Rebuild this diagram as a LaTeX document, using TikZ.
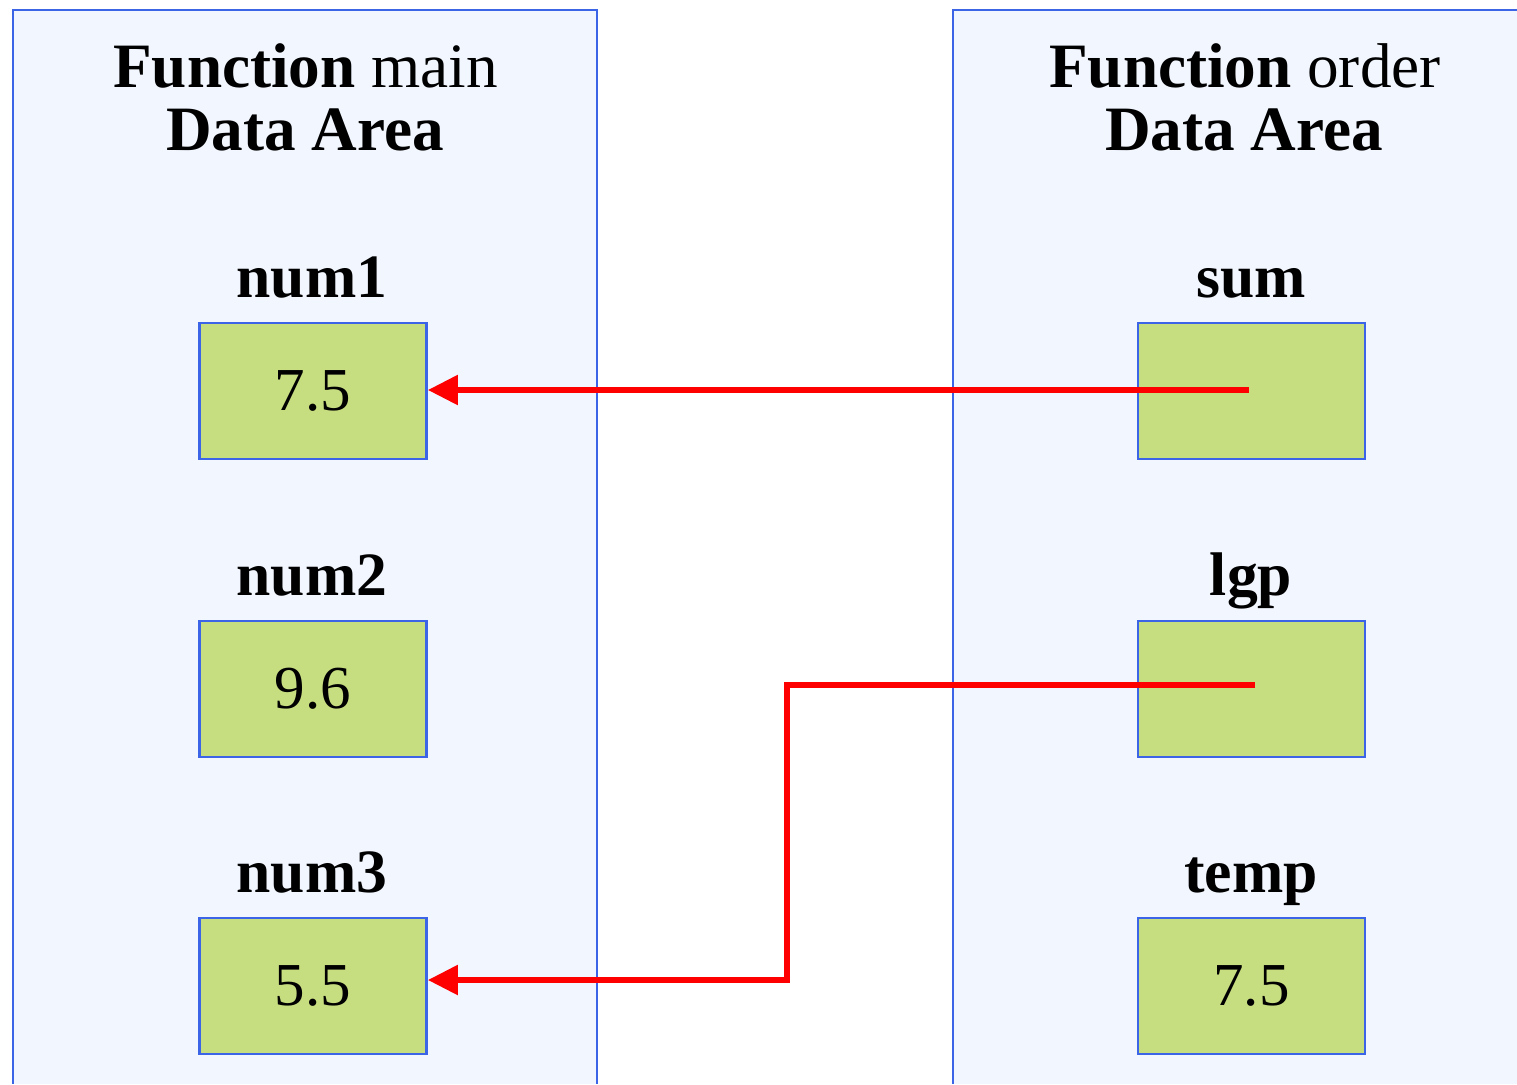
\documentclass[tikz,border=0pt]{standalone}
\usepackage{fontspec}
\setmainfont{Liberation Serif}
\usetikzlibrary{arrows.meta}
\definecolor{panelfill}{HTML}{F2F6FE}
\definecolor{panelline}{HTML}{3C64E6}
\definecolor{boxfill}{HTML}{C6DD80}
\definecolor{linkred}{HTML}{FF0000}
\tikzset{
  panel/.style={fill=panelfill},
  panelborder/.style={draw=panelline, line width=1.3pt},
  varbox/.style={draw=panelline, fill=boxfill, line width=1.4pt, minimum width=113.5pt, minimum height=68pt, inner sep=0pt, font=\fontsize{30.5pt}{36pt}\selectfont},
  lbl/.style={anchor=base, inner sep=0pt, font=\fontsize{30.8pt}{36pt}\selectfont\bfseries},
  ttl/.style={anchor=base, inner sep=0pt, font=\fontsize{31.6pt}{36pt}\selectfont},
  link/.style={draw=linkred, line width=2.8pt},
  linkarrow/.style={link, -{Triangle[length=15pt,width=14.5pt]}}
}
\begin{document}
\begin{tikzpicture}[x=0.5pt,y=-0.5pt]
\useasboundingbox (0,0) rectangle (1517,1084);
% panels
\fill[panel] (13,10) rectangle (597,1084);
\fill[panel] (953,10) rectangle (1517,1084);
\draw[panelborder] (13,1084) -- (13,10) -- (597,10) -- (597,1084);
\draw[panelborder] (953,1084) -- (953,10) -- (1520,10);
% titles
\node[ttl] (t1a) at (305.5,87) {\textbf{Function} main};
\node[ttl] (t1b) at (305,150) {\textbf{Data Area}};
\node[ttl] (t2a) at (1245,87) {\textbf{Function} order};
\node[ttl] (t2b) at (1244,150) {\textbf{Data Area}};
% left boxes
\node[varbox] (num1) at (313,391) {7.5};
\node[varbox] (num2) at (313,689) {9.6};
\node[varbox] (num3) at (313,986) {5.5};
\node[lbl] (l1) at (312,297) {num1};
\node[lbl] (l2) at (312,595) {num2};
\node[lbl] (l3) at (312,892) {num3};
% right boxes
\node[varbox] (sum) at (1251.5,391) {};
\node[varbox] (lgp) at (1251.5,689) {};
\node[varbox] (temp) at (1251.5,986) {7.5};
\node[lbl] (r1) at (1251,297) {sum};
\node[lbl] (r2) at (1251,595) {lgp};
\node[lbl] (r3) at (1251,892) {temp};
% connectors
\coordinate (s0) at (1249,390);
\coordinate (g0) at (1255,685);
\coordinate (bend) at (787,685);
\draw[linkarrow] (s0) -- (num1.east |- s0);
\draw[linkarrow] (g0) -- (bend) -- (787,980) -- (num3.east |- 0,980);
\end{tikzpicture}
\end{document}
